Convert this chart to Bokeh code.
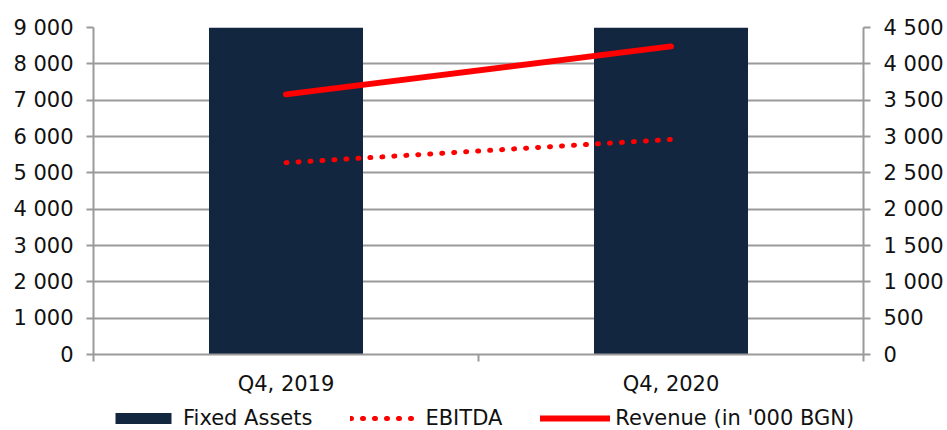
from bokeh.plotting import figure
from bokeh.layouts import column
from bokeh.models import Range1d, LinearAxis, FixedTicker, Legend, LegendItem, Grid
from bokeh.embed import file_html
from bokeh.resources import INLINE

# Data
quarters = ["Q4, 2019", "Q4, 2020"]
fixed_assets = [9800, 9800]          # left axis (bars run above the 9 000 ceiling)
ebitda = [2640, 2960]                # right axis
revenue = [3580, 4240]               # right axis, '000 BGN
left_ticks = [0, 1000, 2000, 3000, 4000, 5000, 6000, 7000, 8000, 9000]
right_ticks = [0, 500, 1000, 1500, 2000, 2500, 3000, 3500, 4000, 4500]
series_names = ["Fixed Assets", "EBITDA", "Revenue (in '000 BGN)"]

NAVY = "#13263F"
RED = "#FF0000"
GRID = "#9A9A9A"
FONT = "DejaVu Sans"
FS = "21px"
NAN = float("nan")

def fmt(v):
    return f"{v:,}".replace(",", " ")

xs = [i + 0.5 for i in range(len(quarters))]

p = figure(frame_width=770, frame_height=327, output_backend="svg", toolbar_location=None,
           x_range=Range1d(0, len(quarters)), y_range=Range1d(0, 9000),
           min_border_left=93, min_border_right=84, min_border_top=27,
           min_border_bottom=50, y_axis_location=None, x_axis_location=None)
p.extra_y_ranges = {"right": Range1d(0, 4500)}
p.outline_line_color = None
p.background_fill_color = "white"
p.border_fill_color = "white"
for r in list(p.center):
    if isinstance(r, Grid):
        p.center.remove(r)

# left axis
la = LinearAxis(ticker=FixedTicker(ticks=left_ticks),
                major_label_overrides={t: fmt(t) for t in left_ticks})
# right axis
ra = LinearAxis(y_range_name="right", ticker=FixedTicker(ticks=right_ticks),
                major_label_overrides={t: fmt(t) for t in right_ticks})
for ax in (la, ra):
    ax.axis_line_color = GRID
    ax.axis_line_width = 2
    ax.major_tick_line_color = GRID
    ax.major_tick_line_width = 2
    ax.major_tick_out = 7
    ax.major_tick_in = 0
    ax.minor_tick_line_color = None
    ax.major_label_text_font = FONT
    ax.major_label_text_font_size = FS
    ax.major_label_text_color = "#111111"
    ax.major_label_standoff = 13
p.add_layout(la, "left")
p.add_layout(ra, "right")

# category axis: labels at centres, ticks at boundaries
xa = LinearAxis(ticker=FixedTicker(ticks=xs, minor_ticks=list(range(len(quarters) + 1))),
                major_label_overrides={x: q for x, q in zip(xs, quarters)})
xa.axis_line_color = GRID
xa.axis_line_width = 2
xa.major_tick_line_color = None
xa.minor_tick_line_color = GRID
xa.minor_tick_line_width = 2
xa.minor_tick_out = 7
xa.minor_tick_in = 0
xa.major_label_text_font = FONT
xa.major_label_text_font_size = FS
xa.major_label_text_color = "#111111"
xa.major_label_standoff = 10
p.add_layout(xa, "below")

# horizontal gridlines on the left scale
p.add_layout(Grid(dimension=1, ticker=la.ticker, grid_line_color=GRID,
                  grid_line_width=2, level="underlay"))

p.vbar(x=xs, top=fixed_assets, width=0.4, fill_color=NAVY, line_color=None)
p.line(x=xs, y=ebitda, y_range_name="right", line_color=RED, line_width=5,
       line_dash="1 11", line_cap="round")
p.line(x=xs, y=revenue, y_range_name="right", line_color=RED, line_width=6,
       line_cap="round")

# legend strip underneath the chart (key swatches only, nothing plotted)
leg = figure(width=947, height=26, output_backend="svg", toolbar_location=None,
             x_range=Range1d(0, 1), y_range=Range1d(0, 1),
             min_border=0, x_axis_location=None, y_axis_location=None)
leg.outline_line_color = None
leg.xgrid.visible = False
leg.ygrid.visible = False
k_bar = leg.vbar(x=[NAN], top=[NAN], width=1, fill_color=NAVY, line_color=None)
k_eb = leg.line(x=[NAN, NAN], y=[NAN, NAN], line_color=RED, line_width=5,
                line_dash="1 11", line_cap="round")
k_rv = leg.line(x=[NAN, NAN], y=[NAN, NAN], line_color=RED, line_width=6,
                line_cap="round")

legend = Legend(items=[LegendItem(label=n, renderers=[r])
                       for n, r in zip(series_names, [k_bar, k_eb, k_rv])],
                orientation="horizontal", location=(15, 0),
                label_text_font=FONT, label_text_font_size=FS,
                label_text_color="#111111", glyph_width=70, glyph_height=14,
                spacing=38, padding=0, margin=0, border_line_color=None,
                background_fill_alpha=0, label_standoff=5)
leg.add_layout(legend, "center")

layout = column(p, leg, spacing=0)
open("out.html", "w").write(file_html(layout, INLINE))
